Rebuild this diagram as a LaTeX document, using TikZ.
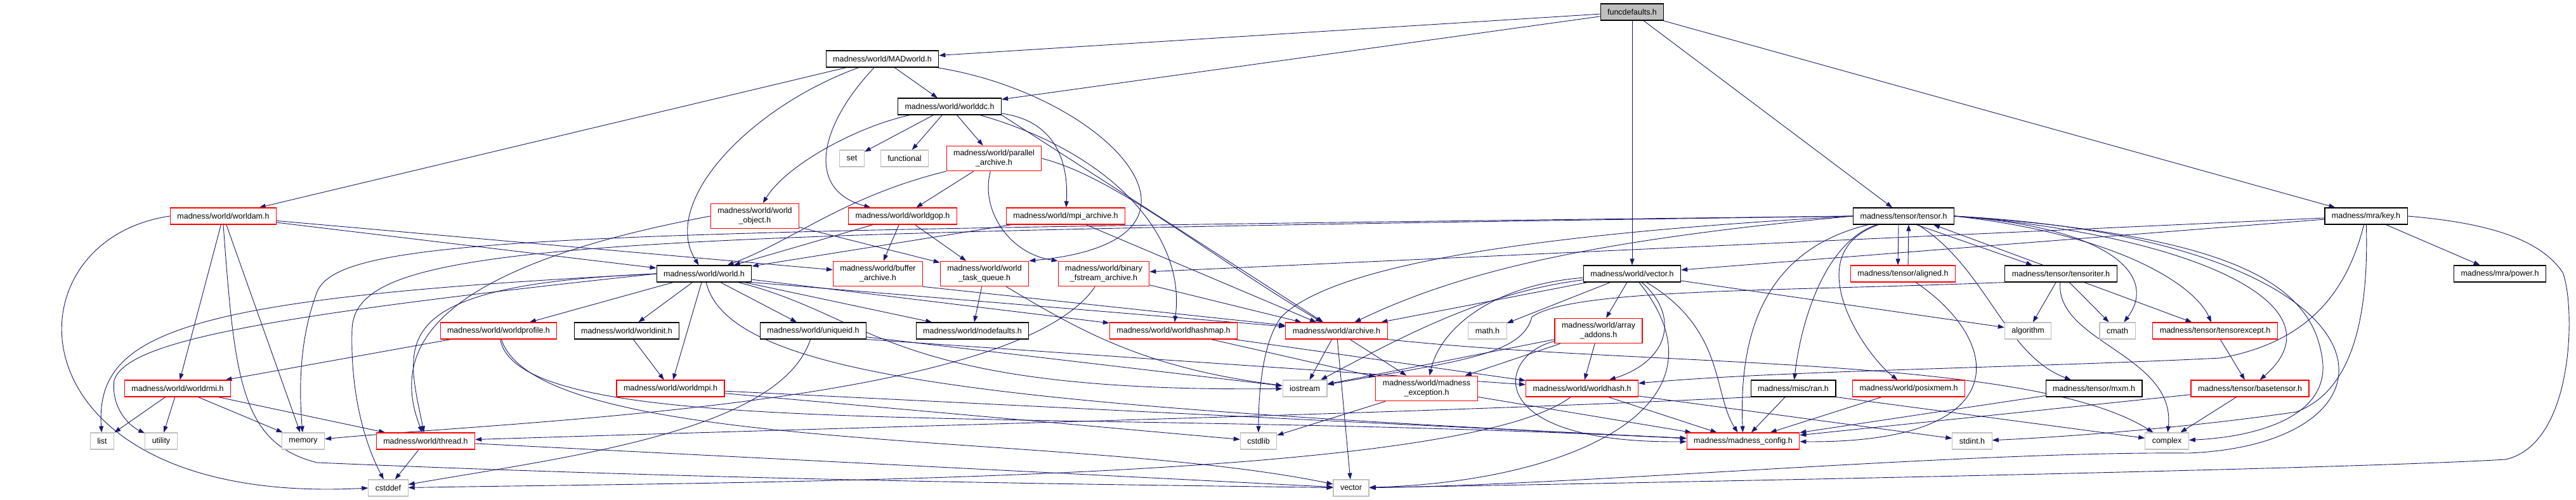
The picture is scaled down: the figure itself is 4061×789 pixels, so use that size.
\documentclass[tikz,border=0pt]{standalone}
\usepackage{fontspec}
\setmainfont{Liberation Sans}
\usetikzlibrary{arrows.meta}
\definecolor{edgeblue}{RGB}{25,25,112}
\definecolor{extgray}{RGB}{191,191,191}
\pgfdeclarelayer{bg}
\pgfsetlayers{bg,main}

\begin{document}
\begin{tikzpicture}[
    x=1pt, y=-1pt,
    file/.style={draw, fill=white, line width=1.1pt, align=center, inner xsep=11pt, inner ysep=6.5pt, minimum height=26pt, font=\fontsize{12.5}{15}\selectfont},
    doc/.style={file, draw=black},
    trunc/.style={file, draw=red},
    ext/.style={file, draw=extgray},
    root/.style={file, draw=black, fill=extgray},
    arrow/.style={-{Triangle[length=10pt, width=7pt]}, edgeblue, line width=0.9pt}
]
\useasboundingbox (0,0) rectangle (4061,789);
\node[root] (fdef) at (2573,19) {funcdefaults.h};
\node[doc] (madw) at (1391,93) {madness/world/MADworld.h};
\node[doc] (wdc) at (1497,168) {madness/world/worlddc.h};
\node[ext] (set) at (1343,250) {set};
\node[ext] (func) at (1426,250) {functional};
\node[trunc] (par) at (1567,250) {madness/world/parallel\\\_archive.h};
\node[trunc] (wam) at (352,341) {madness/world/worldam.h};
\node[trunc] (wobj) at (1190,341) {madness/world/world\\\_object.h};
\node[trunc] (wgop) at (1423,341) {madness/world/worldgop.h};
\node[trunc] (mpia) at (1680,341) {madness/world/mpi\_archive.h};
\node[doc] (tens) at (3001,341) {madness/tensor/tensor.h};
\node[doc] (key) at (3730,341) {madness/mra/key.h};
\node[doc] (wld) at (1110,432) {madness/world/world.h};
\node[trunc] (bufa) at (1384,432) {madness/world/buffer\\\_archive.h};
\node[trunc] (taskq) at (1552,432) {madness/world/world\\\_task\_queue.h};
\node[trunc] (binf) at (1740,432) {madness/world/binary\\\_fstream\_archive.h};
\node[doc] (vech) at (2573,432) {madness/world/vector.h};
\node[trunc] (alig) at (3000,432) {madness/tensor/aligned.h};
\node[doc] (titer) at (3249,432) {madness/tensor/tensoriter.h};
\node[doc] (pow) at (3941,432) {madness/mra/power.h};
\node[trunc] (wprof) at (786,522) {madness/world/worldprofile.h};
\node[doc] (winit) at (988,522) {madness/world/worldinit.h};
\node[doc] (uid) at (1282,522) {madness/world/uniqueid.h};
\node[doc] (nodef) at (1533,522) {madness/world/nodefaults.h};
\node[trunc] (hmap) at (1850,522) {madness/world/worldhashmap.h};
\node[trunc] (arch) at (2107,522) {madness/world/archive.h};
\node[ext] (mathh) at (2345,522) {math.h};
\node[trunc] (arradd) at (2520,522) {madness/world/array\\\_addons.h};
\node[ext] (algo) at (3197,522) {algorithm};
\node[ext] (cmath) at (3338,522) {cmath};
\node[trunc] (texc) at (3492,522) {madness/tensor/tensorexcept.h};
\node[trunc] (wrmi) at (280,613) {madness/world/worldrmi.h};
\node[trunc] (wmpi) at (1057,613) {madness/world/worldmpi.h};
\node[ext] (iostr) at (2057,613) {iostream};
\node[trunc] (mexc) at (2249,613) {madness/world/madness\\\_exception.h};
\node[trunc] (whash) at (2494,613) {madness/world/worldhash.h};
\node[doc] (ran) at (2827,613) {madness/misc/ran.h};
\node[trunc] (pmem) at (3009,613) {madness/world/posixmem.h};
\node[doc] (mxm) at (3301,613) {madness/tensor/mxm.h};
\node[trunc] (btens) at (3547,613) {madness/tensor/basetensor.h};
\node[ext] (list) at (161,696) {list};
\node[ext] (util) at (254,696) {utility};
\node[ext] (mem) at (478,696) {memory};
\node[trunc] (thr) at (671,696) {madness/world/thread.h};
\node[ext] (cstdlib) at (1984,696) {cstdlib};
\node[trunc] (mcfg) at (2748,696) {madness/madness\_config.h};
\node[ext] (stdint) at (3109,696) {stdint.h};
\node[ext] (cplx) at (3416,696) {complex};
\node[ext] (cstddef) at (612,770) {cstddef};
\node[ext] (vec) at (2130,770) {vector};
\begin{pgfonlayer}{bg}
\draw[arrow] (fdef) -- (madw);
\draw[arrow] (fdef) -- (wdc);
\draw[arrow] (fdef) -- (vech);
\draw[arrow] (fdef) -- (tens);
\draw[arrow] (fdef) -- (key);
\draw[arrow] (madw) -- (wam);
\draw[arrow] (madw) .. controls (1180,170) and (1040,320) .. (wld);
\draw[arrow] (madw) .. controls (1290,200) and (1270,300) .. (wgop);
\draw[arrow] (madw) -- (wdc);
\draw[arrow] (madw) .. controls (1750,150) and (1960,380) .. (taskq.north east);
\draw[arrow] (wdc) .. controls (1350,200) and (1240,260) .. (wobj);
\draw[arrow] (wdc) -- (set);
\draw[arrow] (wdc) -- (func);
\draw[arrow] (wdc) -- (par);
\draw[arrow] (wdc) .. controls (1660,190) and (1685,250) .. (mpia);
\draw[arrow] (wdc.south east) -- (arch);
\draw[arrow] (wdc) .. controls (1750,240) and (1870,370) .. (hmap);
\draw[arrow] (wam) -- (wld);
\draw[arrow] (wam) -- (bufa);
\draw[arrow] (wam) -- (wrmi);
\draw[arrow] (wam) -- (mem);
\draw[arrow] (wam.south) .. controls (370,600) and (380,700) .. (500,730) .. controls (1200,760) and (1800,765) .. (vec);
\draw[arrow] (wam.west) .. controls (0,380) and (10,800) .. (cstddef.west);
\draw[arrow] (par) -- (wgop);
\draw[arrow] (par.south west) .. controls (1330,310) and (1250,380) .. (wld);
\draw[arrow] (par) .. controls (1545,330) and (1590,400) .. (binf.north west);
\draw[arrow] (par.east) .. controls (1760,280) and (1900,400) .. (arch);
\draw[arrow] (mpia) -- (wld);
\draw[arrow] (mpia) -- (arch);
\draw[arrow] (wobj.west) .. controls (700,420) and (610,540) .. (thr);
\draw[arrow] (wobj) -- (taskq);
\draw[arrow] (wgop) -- (wld);
\draw[arrow] (wgop) -- (bufa);
\draw[arrow] (wgop) -- (taskq);
\draw[arrow] (bufa.south east) -- (arch);
\draw[arrow] (taskq) -- (nodef);
\draw[arrow] (taskq) .. controls (1700,520) and (1800,580) .. (iostr);
\draw[arrow] (binf) -- (arch);
\draw[arrow] (binf) .. controls (1600,640) and (800,665) .. (mem);
\draw[arrow] (wld) -- (wprof);
\draw[arrow] (wld) -- (winit);
\draw[arrow] (wld) -- (wmpi);
\draw[arrow] (wld) -- (uid);
\draw[arrow] (wld) -- (nodef);
\draw[arrow] (wld) -- (hmap);
\draw[arrow] (wld.south east) -- (arch);
\draw[arrow] (wld) .. controls (1380,500) and (1400,620) .. (iostr);
\draw[arrow] (wld) .. controls (1150,600) and (1600,640) .. (mcfg);
\draw[arrow] (wld.west) .. controls (300,470) and (150,520) .. (list);
\draw[arrow] (wld.west) .. controls (400,500) and (200,540) .. (180,600) .. controls (175,640) and (200,670) .. (util);
\draw[arrow] (wld.west) .. controls (600,450) and (640,540) .. (thr);
\draw[arrow] (wprof) -- (wrmi);
\draw[arrow] (wprof) .. controls (820,700) and (1600,640) .. (mcfg);
\draw[arrow] (wprof) .. controls (850,720) and (1700,680) .. (vec);
\draw[arrow] (winit) -- (wmpi);
\draw[arrow] (wmpi) -- (cstdlib);
\draw[arrow] (wmpi) -- (mcfg);
\draw[arrow] (wrmi) -- (list);
\draw[arrow] (wrmi) -- (util);
\draw[arrow] (wrmi) -- (mem);
\draw[arrow] (wrmi) -- (thr);
\draw[arrow] (thr) -- (cstddef);
\draw[arrow] (thr) -- (vec);
\draw[arrow] (uid) .. controls (1230,680) and (900,720) .. (cstddef);
\draw[arrow] (uid) -- (iostr);
\draw[arrow] (uid.south east) -- (whash);
\draw[arrow] (hmap) -- (whash);
\draw[arrow] (hmap) -- (mexc);
\draw[arrow] (arch) -- (iostr);
\draw[arrow] (arch) -- (mexc);
\draw[arrow] (arch) -- (vec);
\draw[arrow] (arch.south east) .. controls (2600,580) and (3200,560) .. (cplx);
\draw[arrow] (vech) -- (arch);
\draw[arrow] (vech) .. controls (2350,460) and (2230,520) .. (iostr);
\draw[arrow] (vech) -- (mathh);
\draw[arrow] (vech) -- (arradd);
\draw[arrow] (vech) .. controls (2350,450) and (2270,520) .. (mexc);
\draw[arrow] (vech) .. controls (2650,500) and (2630,570) .. (whash);
\draw[arrow] (vech) .. controls (2720,520) and (2700,620) .. (mcfg);
\draw[arrow] (vech) .. controls (2740,640) and (2480,760) .. (vec);
\draw[arrow] (vech) -- (algo);
\draw[arrow] (arradd) -- (iostr);
\draw[arrow] (arradd) -- (mexc);
\draw[arrow] (arradd) -- (whash);
\draw[arrow] (arradd) .. controls (2360,560) and (2330,700) .. (mcfg);
\draw[arrow] (mexc) -- (mcfg);
\draw[arrow] (mexc) -- (cstdlib);
\draw[arrow] (whash) -- (mcfg);
\draw[arrow] (whash) .. controls (2300,760) and (1200,760) .. (cstddef);
\draw[arrow] (whash) -- (stdint);
\draw[arrow] (ran) -- (mcfg);
\draw[arrow] (ran.south east) -- (cplx);
\draw[arrow] (ran.south west) .. controls (2300,650) and (1500,670) .. (thr);
\draw[arrow] (pmem) -- (mcfg);
\draw[arrow] ([xshift=-8pt]tens.south) -- ([xshift=-8pt]alig.north);
\draw[arrow] ([xshift=20pt]tens.south) -- ([xshift=-45pt]titer.north);
\draw[arrow] (tens.east) .. controls (3340,360) and (3400,440) .. (cmath);
\draw[arrow] (tens.east) .. controls (3340,370) and (3460,450) .. (texc);
\draw[arrow] (tens.east) .. controls (3450,370) and (3700,480) .. (btens);
\draw[arrow] (tens) .. controls (3130,420) and (3160,560) .. (mxm);
\draw[arrow] (tens) .. controls (2880,380) and (2840,500) .. (ran);
\draw[arrow] (tens) .. controls (2830,400) and (2940,560) .. (pmem);
\draw[arrow] (tens) .. controls (2800,390) and (2740,500) .. (mcfg);
\draw[arrow] (tens.west) .. controls (900,365) and (540,370) .. (500,460) .. controls (470,540) and (472,620) .. (mem);
\draw[arrow] (tens.west) .. controls (900,370) and (560,380) .. (555,520) .. controls (552,620) and (575,700) .. (cstddef);
\draw[arrow] (tens.west) .. controls (2400,370) and (2100,420) .. (2020,500) .. controls (1990,540) and (1984,620) .. (cstdlib);
\draw[arrow] (tens.west) .. controls (2500,380) and (2300,430) .. (arch);
\draw[arrow] (tens.east) .. controls (3500,370) and (3640,440) .. (3660,560) .. controls (3680,660) and (3550,690) .. (cplx);
\draw[arrow] (tens.east) .. controls (3800,380) and (3820,700) .. (3450,715) .. controls (3100,712) and (2500,765) .. (vec);
\draw[arrow] ([xshift=8pt]alig.north) -- ([xshift=8pt]tens.south);
\draw[arrow] (alig) .. controls (3160,540) and (3180,700) .. (mcfg);
\draw[arrow] ([xshift=-28pt]titer.north) -- ([xshift=47pt]tens.south);
\draw[arrow] (titer) -- (algo);
\draw[arrow] (titer) -- (cmath);
\draw[arrow] (titer) -- (texc);
\draw[arrow] (titer) .. controls (3240,540) and (3430,560) .. (cplx);
\draw[arrow] (titer.south west) .. controls (2800,460) and (2480,455) .. (2415,500) .. controls (2400,560) and (2300,570) .. (iostr);
\draw[arrow] (texc) -- (btens);
\draw[arrow] (btens) -- (cplx);
\draw[arrow] (btens) -- (mcfg);
\draw[arrow] (mxm) -- (mcfg);
\draw[arrow] (key) -- (pow);
\draw[arrow] (key) -- (vech);
\draw[arrow] (key) -- (binf);
\draw[arrow] (key) .. controls (3700,460) and (3640,540) .. (3500,565) .. controls (3200,580) and (2800,585) .. (whash);
\draw[arrow] (key) .. controls (3735,520) and (3700,620) .. (3620,650) .. controls (3450,675) and (3250,690) .. (stdint);
\draw[arrow] (key.east) .. controls (3900,350) and (4000,370) .. (4040,430) .. controls (4060,480) and (4060,700) .. (3950,725) .. controls (3700,740) and (2700,760) .. (vec);
\end{pgfonlayer}
\end{tikzpicture}
\end{document}
